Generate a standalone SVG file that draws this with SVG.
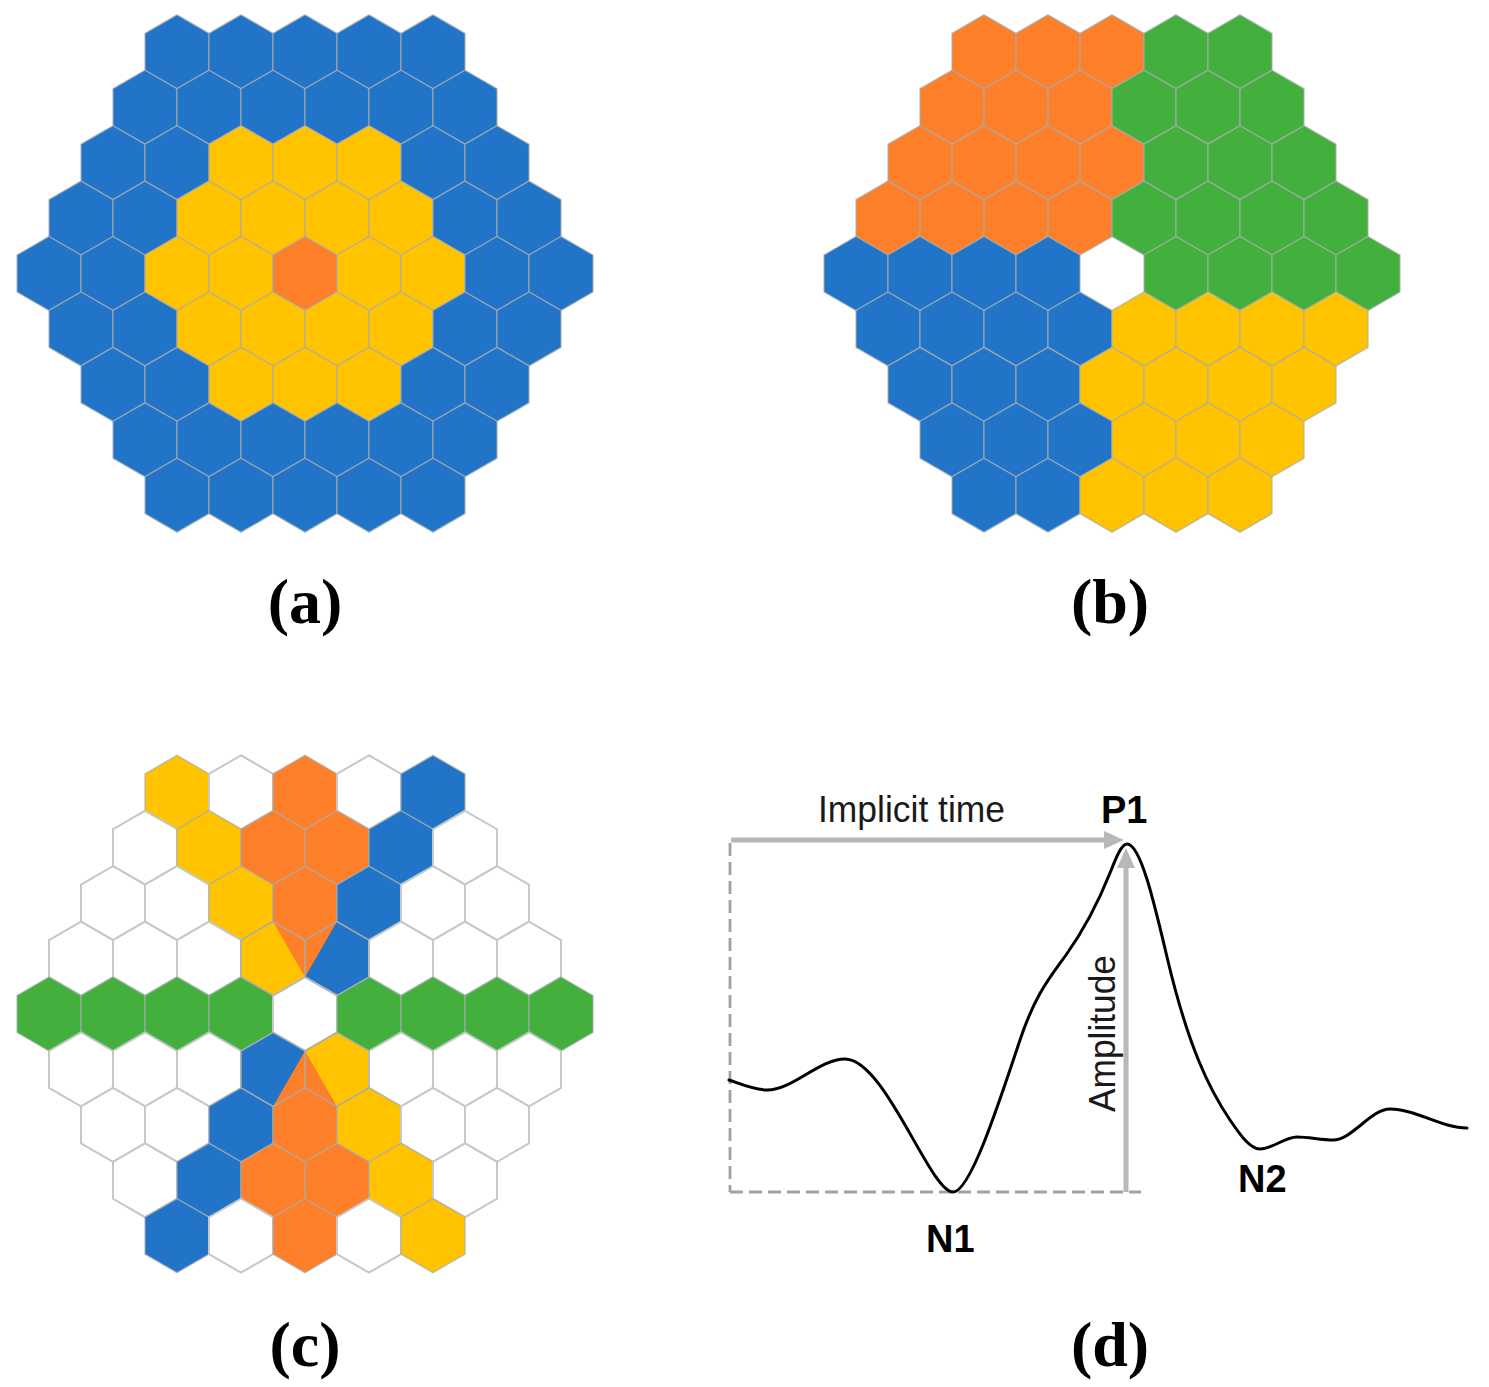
<svg xmlns="http://www.w3.org/2000/svg" xmlns:xlink="http://www.w3.org/1999/xlink" width="1489" height="1387" viewBox="0 0 1489 1387">
<defs>
<polygon id="hx" points="0,-36.95 32,-18.475 32,18.475 0,36.95 -32,18.475 -32,-18.475"/>
<style>
.B{fill:#2174c7}
.Y{fill:#ffc300}
.O{fill:#fd7f2a}
.G{fill:#43b03d}
.W{fill:#ffffff}
use{stroke:#a8acae;stroke-width:1.3;stroke-opacity:0.75}
use.W{stroke:#c4c8c8;stroke-width:2;stroke-opacity:1}
use.N{fill:none}
.lbl{font-family:"Liberation Serif",serif;font-weight:bold;font-size:64px;text-anchor:middle;fill:#000}
.ax{font-family:"Liberation Sans",Arial,sans-serif;font-size:36px;fill:#1a1a1a}
.pk{font-family:"Liberation Sans",Arial,sans-serif;font-weight:bold;font-size:38px;fill:#000}
.dash{stroke:#a2a2a2;stroke-width:2.8;stroke-dasharray:13 6;fill:none}
.arr{stroke:#b8b8b8;stroke-width:5;fill:none}
.arrh{fill:#b8b8b8}
</style>
</defs>
<rect width="1489" height="1387" fill="#ffffff"/>

<g id="panel-a" transform="translate(305,273.5)">
<use href="#hx" x="-128" y="-221.7" class="B"/><use href="#hx" x="-64" y="-221.7" class="B"/><use href="#hx" x="0" y="-221.7" class="B"/><use href="#hx" x="64" y="-221.7" class="B"/><use href="#hx" x="128" y="-221.7" class="B"/>
<use href="#hx" x="-160" y="-166.28" class="B"/><use href="#hx" x="-96" y="-166.28" class="B"/><use href="#hx" x="-32" y="-166.28" class="B"/><use href="#hx" x="32" y="-166.28" class="B"/><use href="#hx" x="96" y="-166.28" class="B"/><use href="#hx" x="160" y="-166.28" class="B"/>
<use href="#hx" x="-192" y="-110.85" class="B"/><use href="#hx" x="-128" y="-110.85" class="B"/><use href="#hx" x="-64" y="-110.85" class="Y"/><use href="#hx" x="0" y="-110.85" class="Y"/><use href="#hx" x="64" y="-110.85" class="Y"/><use href="#hx" x="128" y="-110.85" class="B"/><use href="#hx" x="192" y="-110.85" class="B"/>
<use href="#hx" x="-224" y="-55.43" class="B"/><use href="#hx" x="-160" y="-55.43" class="B"/><use href="#hx" x="-96" y="-55.43" class="Y"/><use href="#hx" x="-32" y="-55.43" class="Y"/><use href="#hx" x="32" y="-55.43" class="Y"/><use href="#hx" x="96" y="-55.43" class="Y"/><use href="#hx" x="160" y="-55.43" class="B"/><use href="#hx" x="224" y="-55.43" class="B"/>
<use href="#hx" x="-256" y="0" class="B"/><use href="#hx" x="-192" y="0" class="B"/><use href="#hx" x="-128" y="0" class="Y"/><use href="#hx" x="-64" y="0" class="Y"/><use href="#hx" x="0" y="0" class="O"/><use href="#hx" x="64" y="0" class="Y"/><use href="#hx" x="128" y="0" class="Y"/><use href="#hx" x="192" y="0" class="B"/><use href="#hx" x="256" y="0" class="B"/>
<use href="#hx" x="-224" y="55.43" class="B"/><use href="#hx" x="-160" y="55.43" class="B"/><use href="#hx" x="-96" y="55.43" class="Y"/><use href="#hx" x="-32" y="55.43" class="Y"/><use href="#hx" x="32" y="55.43" class="Y"/><use href="#hx" x="96" y="55.43" class="Y"/><use href="#hx" x="160" y="55.43" class="B"/><use href="#hx" x="224" y="55.43" class="B"/>
<use href="#hx" x="-192" y="110.85" class="B"/><use href="#hx" x="-128" y="110.85" class="B"/><use href="#hx" x="-64" y="110.85" class="Y"/><use href="#hx" x="0" y="110.85" class="Y"/><use href="#hx" x="64" y="110.85" class="Y"/><use href="#hx" x="128" y="110.85" class="B"/><use href="#hx" x="192" y="110.85" class="B"/>
<use href="#hx" x="-160" y="166.28" class="B"/><use href="#hx" x="-96" y="166.28" class="B"/><use href="#hx" x="-32" y="166.28" class="B"/><use href="#hx" x="32" y="166.28" class="B"/><use href="#hx" x="96" y="166.28" class="B"/><use href="#hx" x="160" y="166.28" class="B"/>
<use href="#hx" x="-128" y="221.7" class="B"/><use href="#hx" x="-64" y="221.7" class="B"/><use href="#hx" x="0" y="221.7" class="B"/><use href="#hx" x="64" y="221.7" class="B"/><use href="#hx" x="128" y="221.7" class="B"/>
</g>

<g id="panel-b" transform="translate(1112,273.5)">
<use href="#hx" x="-128" y="-221.7" class="O"/><use href="#hx" x="-64" y="-221.7" class="O"/><use href="#hx" x="0" y="-221.7" class="O"/><use href="#hx" x="64" y="-221.7" class="G"/><use href="#hx" x="128" y="-221.7" class="G"/>
<use href="#hx" x="-160" y="-166.28" class="O"/><use href="#hx" x="-96" y="-166.28" class="O"/><use href="#hx" x="-32" y="-166.28" class="O"/><use href="#hx" x="32" y="-166.28" class="G"/><use href="#hx" x="96" y="-166.28" class="G"/><use href="#hx" x="160" y="-166.28" class="G"/>
<use href="#hx" x="-192" y="-110.85" class="O"/><use href="#hx" x="-128" y="-110.85" class="O"/><use href="#hx" x="-64" y="-110.85" class="O"/><use href="#hx" x="0" y="-110.85" class="O"/><use href="#hx" x="64" y="-110.85" class="G"/><use href="#hx" x="128" y="-110.85" class="G"/><use href="#hx" x="192" y="-110.85" class="G"/>
<use href="#hx" x="-224" y="-55.43" class="O"/><use href="#hx" x="-160" y="-55.43" class="O"/><use href="#hx" x="-96" y="-55.43" class="O"/><use href="#hx" x="-32" y="-55.43" class="O"/><use href="#hx" x="32" y="-55.43" class="G"/><use href="#hx" x="96" y="-55.43" class="G"/><use href="#hx" x="160" y="-55.43" class="G"/><use href="#hx" x="224" y="-55.43" class="G"/>
<use href="#hx" x="-256" y="0" class="B"/><use href="#hx" x="-192" y="0" class="B"/><use href="#hx" x="-128" y="0" class="B"/><use href="#hx" x="-64" y="0" class="B"/><use href="#hx" x="64" y="0" class="G"/><use href="#hx" x="128" y="0" class="G"/><use href="#hx" x="192" y="0" class="G"/><use href="#hx" x="256" y="0" class="G"/>
<use href="#hx" x="-224" y="55.43" class="B"/><use href="#hx" x="-160" y="55.43" class="B"/><use href="#hx" x="-96" y="55.43" class="B"/><use href="#hx" x="-32" y="55.43" class="B"/><use href="#hx" x="32" y="55.43" class="Y"/><use href="#hx" x="96" y="55.43" class="Y"/><use href="#hx" x="160" y="55.43" class="Y"/><use href="#hx" x="224" y="55.43" class="Y"/>
<use href="#hx" x="-192" y="110.85" class="B"/><use href="#hx" x="-128" y="110.85" class="B"/><use href="#hx" x="-64" y="110.85" class="B"/><use href="#hx" x="0" y="110.85" class="Y"/><use href="#hx" x="64" y="110.85" class="Y"/><use href="#hx" x="128" y="110.85" class="Y"/><use href="#hx" x="192" y="110.85" class="Y"/>
<use href="#hx" x="-160" y="166.28" class="B"/><use href="#hx" x="-96" y="166.28" class="B"/><use href="#hx" x="-32" y="166.28" class="B"/><use href="#hx" x="32" y="166.28" class="Y"/><use href="#hx" x="96" y="166.28" class="Y"/><use href="#hx" x="160" y="166.28" class="Y"/>
<use href="#hx" x="-128" y="221.7" class="B"/><use href="#hx" x="-64" y="221.7" class="B"/><use href="#hx" x="0" y="221.7" class="Y"/><use href="#hx" x="64" y="221.7" class="Y"/><use href="#hx" x="128" y="221.7" class="Y"/>
</g>

<g id="panel-c" transform="translate(305,1014)">
<use href="#hx" x="-128" y="-221.7" class="Y"/><use href="#hx" x="-64" y="-221.7" class="W"/><use href="#hx" x="0" y="-221.7" class="O"/><use href="#hx" x="64" y="-221.7" class="W"/><use href="#hx" x="128" y="-221.7" class="B"/>
<use href="#hx" x="-160" y="-166.28" class="W"/><use href="#hx" x="-96" y="-166.28" class="Y"/><use href="#hx" x="-32" y="-166.28" class="O"/><use href="#hx" x="32" y="-166.28" class="O"/><use href="#hx" x="96" y="-166.28" class="B"/><use href="#hx" x="160" y="-166.28" class="W"/>
<use href="#hx" x="-192" y="-110.85" class="W"/><use href="#hx" x="-128" y="-110.85" class="W"/><use href="#hx" x="-64" y="-110.85" class="Y"/><use href="#hx" x="0" y="-110.85" class="O"/><use href="#hx" x="64" y="-110.85" class="B"/><use href="#hx" x="128" y="-110.85" class="W"/><use href="#hx" x="192" y="-110.85" class="W"/>
<use href="#hx" x="-224" y="-55.43" class="W"/><use href="#hx" x="-160" y="-55.43" class="W"/><use href="#hx" x="-96" y="-55.43" class="W"/><use href="#hx" x="-32" y="-55.43" class="Y"/><use href="#hx" x="32" y="-55.43" class="B"/><use href="#hx" x="96" y="-55.43" class="W"/><use href="#hx" x="160" y="-55.43" class="W"/><use href="#hx" x="224" y="-55.43" class="W"/>
<use href="#hx" x="-256" y="0" class="G"/><use href="#hx" x="-192" y="0" class="G"/><use href="#hx" x="-128" y="0" class="G"/><use href="#hx" x="-64" y="0" class="G"/><use href="#hx" x="0" y="0" class="W"/><use href="#hx" x="64" y="0" class="G"/><use href="#hx" x="128" y="0" class="G"/><use href="#hx" x="192" y="0" class="G"/><use href="#hx" x="256" y="0" class="G"/>
<use href="#hx" x="-224" y="55.43" class="W"/><use href="#hx" x="-160" y="55.43" class="W"/><use href="#hx" x="-96" y="55.43" class="W"/><use href="#hx" x="-32" y="55.43" class="B"/><use href="#hx" x="32" y="55.43" class="Y"/><use href="#hx" x="96" y="55.43" class="W"/><use href="#hx" x="160" y="55.43" class="W"/><use href="#hx" x="224" y="55.43" class="W"/>
<use href="#hx" x="-192" y="110.85" class="W"/><use href="#hx" x="-128" y="110.85" class="W"/><use href="#hx" x="-64" y="110.85" class="B"/><use href="#hx" x="0" y="110.85" class="O"/><use href="#hx" x="64" y="110.85" class="Y"/><use href="#hx" x="128" y="110.85" class="W"/><use href="#hx" x="192" y="110.85" class="W"/>
<use href="#hx" x="-160" y="166.28" class="W"/><use href="#hx" x="-96" y="166.28" class="B"/><use href="#hx" x="-32" y="166.28" class="O"/><use href="#hx" x="32" y="166.28" class="O"/><use href="#hx" x="96" y="166.28" class="Y"/><use href="#hx" x="160" y="166.28" class="W"/>
<use href="#hx" x="-128" y="221.7" class="B"/><use href="#hx" x="-64" y="221.7" class="W"/><use href="#hx" x="0" y="221.7" class="O"/><use href="#hx" x="64" y="221.7" class="W"/><use href="#hx" x="128" y="221.7" class="Y"/>
<polygon class="O" points="-32,-92.38 0,-73.9 32,-92.38 0,-36.95"/>
<polygon class="O" points="0,36.95 32,92.38 0,73.9 -32,92.38"/>
<use href="#hx" x="-32" y="-55.43" class="N"/><use href="#hx" x="32" y="-55.43" class="N"/>
<use href="#hx" x="-32" y="55.43" class="N"/><use href="#hx" x="32" y="55.43" class="N"/>
</g>

<g id="panel-d">
<g id="connectors">
<line class="dash" x1="730" y1="843" x2="730" y2="1192"/>
<line class="dash" x1="730" y1="1192" x2="1141" y2="1192"/>
<line class="arr" x1="731" y1="840" x2="1106" y2="840"/>
<polygon class="arrh" points="1104,831 1124,840 1104,849"/>
<line class="arr" x1="1126" y1="1192" x2="1126" y2="866"/>
<polygon class="arrh" points="1117,868 1126,848 1135,868"/>
</g>
<path id="waveform" fill="none" stroke="#000" stroke-width="3" stroke-linejoin="round" stroke-linecap="round"
d="M729,1080 C741.7,1084.4 754.3,1090 767,1090 C793,1090 819,1059 845,1059 C885,1059 930,1192 953,1192 C970,1192 997.7,1107 1020,1040 C1035.3,994 1050.7,976.4 1066,955 C1080.7,934.4 1095.3,909.7 1110,873 C1115.7,858.8 1121.3,844 1127,844 C1140.3,844 1153.7,900.5 1167,957 C1188,1046 1209,1089 1230,1120 C1240,1134.7 1250,1149 1260,1149 C1272.3,1149 1284.7,1137 1297,1137 C1309,1137 1321,1140 1333,1140 C1352,1140 1371,1109 1390,1109 C1415.7,1109 1441,1128 1467,1128"/>
<text class="ax" x="818" y="822" textLength="187" lengthAdjust="spacingAndGlyphs">Implicit time</text>
<text class="ax" transform="translate(1115,1112) rotate(-90)" x="0" y="0" textLength="157" lengthAdjust="spacingAndGlyphs">Amplitude</text>
<text class="pk" x="1101" y="823">P1</text>
<text class="pk" x="926" y="1252">N1</text>
<text class="pk" x="1238" y="1192">N2</text>
</g>

<g id="labels">
<text class="lbl" x="305" y="623">(a)</text>
<text class="lbl" x="1110" y="623">(b)</text>
<text class="lbl" x="305" y="1366">(c)</text>
<text class="lbl" x="1110" y="1366">(d)</text>
</g>
</svg>
